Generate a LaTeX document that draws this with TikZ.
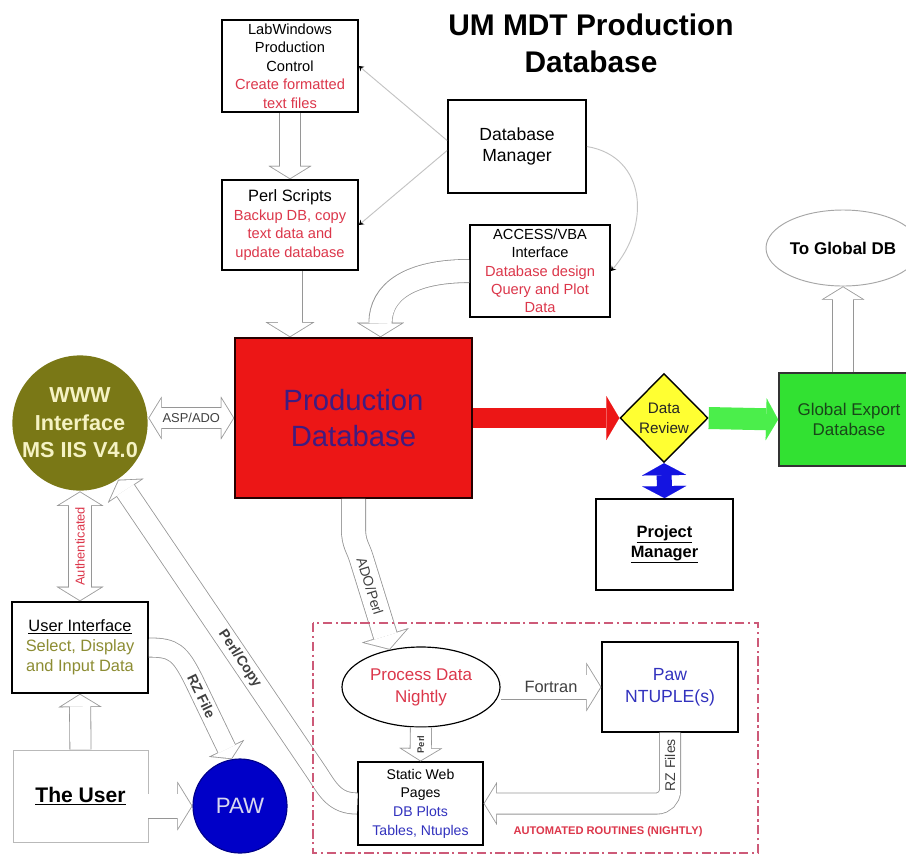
\documentclass[tikz,border=0pt]{standalone}
\usepackage{fontspec}
\setmainfont{Liberation Sans}
\usetikzlibrary{arrows.meta}
\usetikzlibrary{shapes.geometric}
\usetikzlibrary{calc}

\definecolor{dbred}{RGB}{236,22,22}
\definecolor{dbtext}{RGB}{64,28,128}
\definecolor{txtred}{RGB}{220,55,75}
\definecolor{txtblue}{RGB}{50,50,190}
\definecolor{txtolive}{RGB}{140,140,50}
\definecolor{wwwolive}{RGB}{122,120,22}
\definecolor{wwwtext}{RGB}{245,242,195}
\definecolor{revyellow}{RGB}{255,255,50}
\definecolor{expgreen}{RGB}{50,225,50}
\definecolor{expdark}{RGB}{25,70,25}
\definecolor{arrgreen}{RGB}{75,238,75}
\definecolor{pawblue}{RGB}{0,0,200}
\definecolor{pawtext}{RGB}{215,215,240}
\definecolor{arrblue}{RGB}{20,20,225}
\definecolor{pipegray}{RGB}{150,150,150}
\definecolor{linegray}{RGB}{195,195,195}
\definecolor{autored}{RGB}{205,90,120}

\newcommand\fsz[2]{\fontsize{#1}{#2}\selectfont}
\newcommand\redtxt[1]{\textcolor{txtred}{#1}}
\newcommand\bluetxt[1]{\textcolor{txtblue}{#1}}
\newcommand\olivetxt[1]{\textcolor{txtolive}{#1}}

% sizes of a hollow arrow of width #1 (in pixels of the sketch)
\newcommand\pipesetup[1]{%
  \pgfmathsetlengthmacro\pipeW{#1*0.03cm}%
  \pgfmathsetlengthmacro\pipeWi{\pipeW-1.4pt}%
  \pgfmathsetlengthmacro\pipeL{0.6*\pipeW}%
  \pgfmathsetlengthmacro\pipeH{0.975*\pipeW}%
  \pgfmathsetlengthmacro\pipeHo{2*\pipeH}%
  \pgfmathsetmacro\pipeA{atan(\pipeH/\pipeL)}%
  \pgfmathsetlengthmacro\pipeS{0.7pt/sin(\pipeA)}%
  \pgfmathsetlengthmacro\pipeLi{\pipeL-0.7pt-\pipeS}%
  \pgfmathsetlengthmacro\pipeHi{2*(\pipeH*(\pipeL-0.7pt)/\pipeL-0.7pt/cos(\pipeA))}%
}

\tikzset{
  box/.style={rectangle, draw=black, line width=1.5pt, fill=white, align=center, inner sep=0pt},
  pipe/.code={\pipesetup{#1}%
    \tikzset{draw=pipegray, line width=\pipeW,
      -{Triangle[length=\pipeL,width=\pipeHo,line width=0.01pt]},
      postaction={draw=white, line width=\pipeWi, shorten >=\pipeS,
        -{Triangle[length=\pipeLi,width=\pipeHi,line width=0.01pt]}}}},
  pipes/.code={\pipesetup{#1}%
    \tikzset{draw=pipegray, line width=\pipeW,
      {Triangle[length=\pipeL,width=\pipeHo,line width=0.01pt]}-{Triangle[length=\pipeL,width=\pipeHo,line width=0.01pt]},
      postaction={draw=white, line width=\pipeWi, shorten >=\pipeS, shorten <=\pipeS,
        {Triangle[length=\pipeLi,width=\pipeHi,line width=0.01pt]}-{Triangle[length=\pipeLi,width=\pipeHi,line width=0.01pt]}}}},
  thin link/.style={draw=linegray, line width=0.8pt, -{Stealth[black,length=4pt,width=5pt]}},
  red arrow/.style={draw=dbred, line width=0.6cm, -{Triangle[length=0.39cm,width=1.32cm,line width=0.01pt]}},
  green arrow/.style={draw=arrgreen, line width=0.66cm, -{Triangle[length=0.36cm,width=1.26cm,line width=0.01pt]}},
  blue arrow/.style={draw=arrblue, line width=0.45cm, {Triangle[length=0.36cm,width=1.32cm,line width=0.01pt]}-{Triangle[length=0.36cm,width=1.32cm,line width=0.01pt]}},
  auto frame/.style={draw=autored, line width=1.2pt, dash pattern=on 8pt off 3pt on 2pt off 3pt}
}

\begin{document}
\begin{tikzpicture}[x=0.03cm, y=-0.03cm]
\useasboundingbox (0,0) rectangle (906,856);

\node (ttl) at (591,43) [align=center, font=\bfseries\fsz{25.5}{31.5}] {UM MDT Production\\Database};

\begin{scope}[every node/.style={box}]
    \node (labw) at (290,66) [minimum width=4.08cm, minimum height=2.76cm, font=\fsz{12.5}{15.7}]
        {LabWindows\\Production\\Control\\\redtxt{Create formatted}\\\redtxt{text files}};
    \node (perl) at (290,225) [minimum width=4.08cm, minimum height=2.7cm, font=\fsz{12.5}{15.9}]
        {{\fsz{14}{15.9}Perl Scripts}\\\redtxt{Backup DB, copy}\\\redtxt{text data and}\\\redtxt{update database}};
    \node (dbm) at (517,146.5) [minimum width=4.14cm, minimum height=2.79cm, font=\fsz{15}{18}] {Database\\Manager};
    \node (acc) at (540,271) [minimum width=4.2cm, minimum height=2.76cm, font=\fsz{12.5}{15.6}]
        {ACCESS/VBA\\Interface\\\redtxt{Database design}\\\redtxt{Query and Plot}\\\redtxt{Data}};
    \node (pd) at (353.5,418) [minimum width=7.11cm, minimum height=4.8cm, fill=dbred, draw=black!85!red,
        text=dbtext, font=\fsz{25}{30.6}] {Production\\Database};
    \node (dr) at (664,418) [diamond, aspect=1, minimum width=2.64cm, minimum height=2.67cm, fill=revyellow,
        line width=1.2pt, text=black!85, font=\fsz{13}{17}] {Data\\Review};
    \node (ged) at (849,419.5) [minimum width=4.2cm, minimum height=2.79cm, fill=expgreen, draw=black!80,
        text=expdark, font=\fsz{14.5}{17}] {Global Export\\Database};
    \node (tgd) at (843,248) [ellipse, minimum width=4.62cm, minimum height=2.28cm, draw=gray!70,
        line width=0.8pt, font=\bfseries\fsz{14.5}{17}] {To Global DB};
    \node (pm) at (664.5,544.5) [minimum width=4.11cm, minimum height=2.73cm, font=\bfseries\fsz{14}{17}]
        {\underline{Project}\\\underline{Manager}};
    \node (www) at (80,423) [circle, minimum size=3.96cm, fill=wwwolive, draw=none, text=wwwtext,
        font=\bfseries\fsz{18.5}{23.4}] {WWW\\Interface\\MS IIS V4.0};
    \node (ui) at (80,647.5) [minimum width=4.08cm, minimum height=2.73cm, font=\fsz{14}{17}]
        {\underline{User Interface}\\\olivetxt{Select, Display}\\\olivetxt{and Input Data}};
    \node (usr) at (80.5,796) [minimum width=4.05cm, minimum height=2.76cm, draw=gray!55, line width=0.8pt,
        font=\bfseries\fsz{18}{20}] {\underline{The User}};
    \node (paw) at (240,806) [circle, minimum size=2.82cm, fill=pawblue, draw=pawblue!70!black, line width=1pt,
        text=pawtext, font=\fsz{19}{20}] {PAW};
    \node (pdn) at (421,687) [ellipse, minimum width=4.74cm, minimum height=2.4cm, line width=1pt,
        text=txtred, font=\fsz{14.5}{18.8}] {Process Data\\Nightly};
    \node (ntu) at (670,687) [minimum width=4.08cm, minimum height=2.7cm, line width=1.2pt,
        text=txtblue, font=\fsz{15}{18.8}] {Paw\\NTUPLE(s)};
    \node (swp) at (420.5,803.5) [minimum width=3.75cm, minimum height=2.49cm, line width=1.2pt,
        font=\fsz{12}{16}] {Static Web\\Pages\\\bluetxt{DB Plots}\\\bluetxt{Tables, Ntuples}};
\end{scope}

\begin{scope}[every node/.style={font=\fsz{11}{12}, text=black!75}]
    \draw[pipe=22] (labw.south) -- (perl.north);
    \draw[pipe=25] (perl.south) -- (perl.south |- pd.north);
    \draw[pipe=24] (acc.west) .. controls +(-60,0) and +(0,-45) .. ($(pd.north west)!0.613!(pd.north east)$);
    \draw[thin link] ($(dbm.west)+(0,-6)$) -- (labw.east);
    \draw[thin link] ($(dbm.west)+(0,4)$) -- (perl.east);
    \draw[thin link] (dbm.east) .. controls +(60,10) and +(40,-45) .. (acc.east);
    \draw[red arrow] (pd.east) -- (dr.west);
    \draw[green arrow] (dr.east) -- (ged.west);
    \draw[pipe=22] (tgd.south |- ged.north) -- (tgd.south);
    \draw[blue arrow] (pm.north) -- (dr.south);
    \draw[pipes=22] (pd.west -| www.east) -- node {ASP/ADO} (pd.west);
    \draw[pipes=24] (www.south) -- node[rotate=90, text=txtred] {Authenticated} (ui.north);
    \draw[pipe=22] (usr.north) -- (ui.south);
    \draw[pipe=25] (paw.west -| usr.east) -- (paw.west);
    \draw[pipe=20] (ui.east) .. controls +(25,0) and +(-14,-28) .. ++(45,33)
        -- node[pos=0.2, sloped, font=\bfseries\fsz{12}{13}] {RZ File} (paw.100);
    \draw[pipe=22] (swp.west) .. controls +(-22,0) and +(11,17) .. ++(-40,-30)
        -- node[pos=0.39, sloped, font=\bfseries\fsz{12}{13}] {Perl/Copy} (www.-56);
    \draw[pipe=25] (pd.south) -- ++(0,30) .. controls +(0,15) and +(-3.4,-11.5) .. ++(8,30)
        -- node[pos=0.3, sloped, font=\fsz{12}{13}] {ADO/Perl} (pdn.130);
    \draw[pipe=25] (pdn.east) -- node[font=\fsz{14}{15}] {Fortran} (ntu.west);
    \draw[pipe=22] (pdn.south) -- node[sloped, font=\bfseries\fsz{8}{9}] {Perl} (swp.north);
    \draw[pipe=22, rounded corners=0.4cm] (ntu.south) |- node[pos=0.23, rotate=90, font=\fsz{12}{13}] {RZ Files} (swp.east);
\end{scope}

\draw[auto frame] (313,623) rectangle (758,853);
\node (auto) at (608,832) [text=txtred, font=\bfseries\fsz{9.5}{11}] {AUTOMATED ROUTINES (NIGHTLY)};

\end{tikzpicture}
\end{document}
